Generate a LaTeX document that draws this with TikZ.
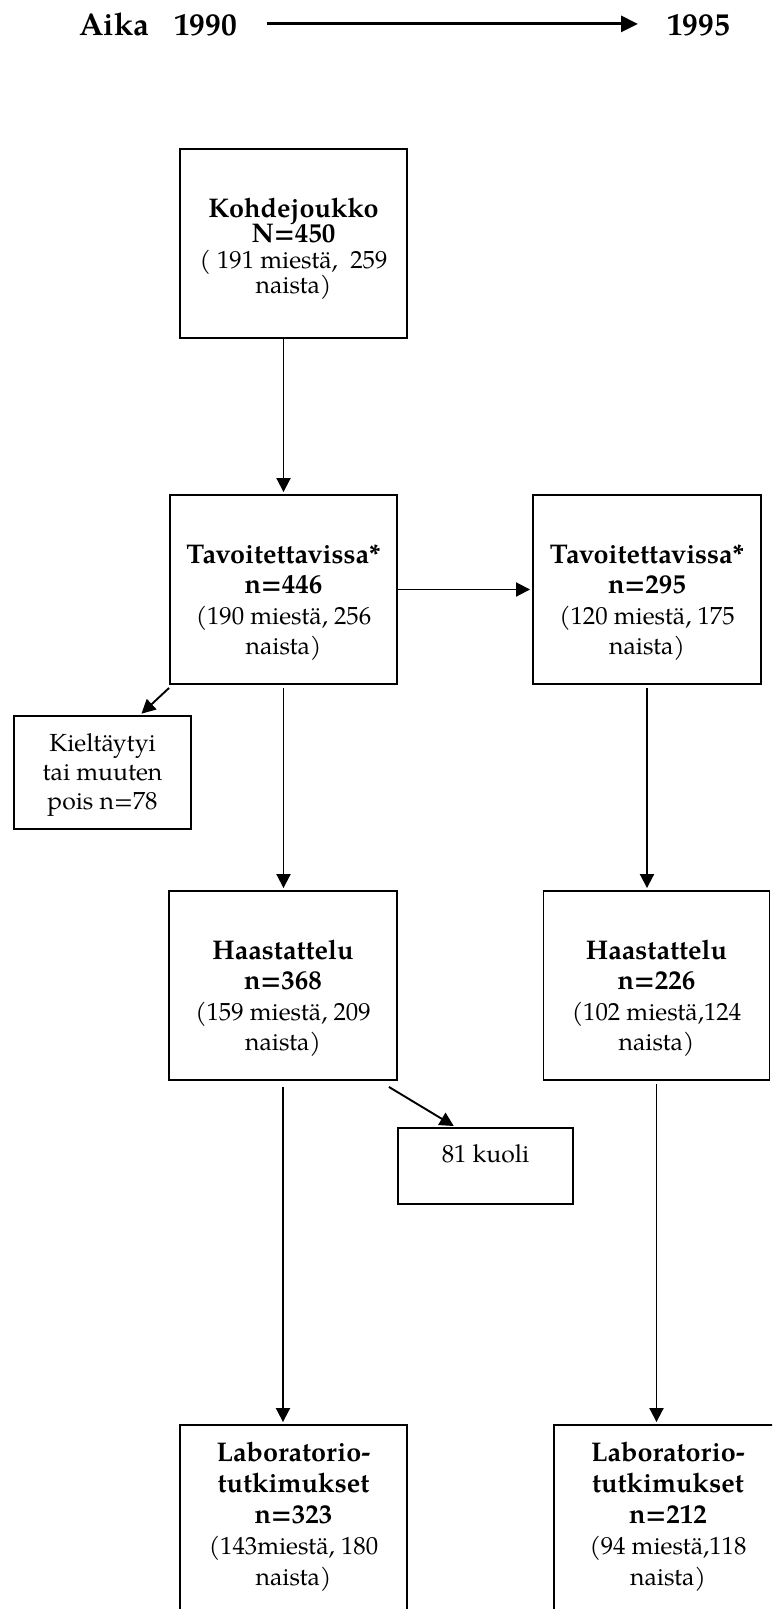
\documentclass[tikz,border=0pt]{standalone}
\usepackage{fontspec}
\setmainfont{TeX Gyre Pagella}
\usetikzlibrary{arrows.meta}
\newcommand{\bt}[1]{{\fontsize{27}{27}\selectfont\bfseries #1}}
\newcommand{\flowbox}[5]{\parbox[c][#2][t]{#1}{\centering\fontsize{24.75}{#4}\selectfont\lineskiplimit=-100pt\lineskip=0pt\rule{0pt}{#3}#5\par}}
\begin{document}
\begin{tikzpicture}[x=1pt,y=-1pt,
  box/.style={draw, line width=1.9pt, inner sep=0pt},
  arr/.style={line width=1.9pt, shorten >=2pt, -{Triangle[length=14pt,width=14pt]}},
  hdr/.style={inner sep=0pt, font=\fontsize{31.5}{32}\selectfont\bfseries},
  hdrarr/.style={line width=3pt, -{Triangle[length=17pt,width=16pt]}}]
\path[use as bounding box, clip] (0,0) rectangle (772,1609);
\fill[white] (0,0) rectangle (772,1609);
\node[hdr, anchor=base west] (aika) at (79,35) {Aika\hspace{25pt}1990};
\node[hdr, anchor=base west] (y95) at (667,35) {1995};
\draw[hdrarr] ([xshift=30pt]aika.east) -- ([xshift=-29pt]aika.east -| y95.west);

\node[box] (A) at (293.5,243.5) {\flowbox{227pt}{189pt}{68pt}{25.5pt}{\bt{Kohdejoukko}\\\bt{N=450}\\( 191 miestä,\ \ 259\\naista)}};
\node[box] (B) at (283.5,589.5) {\flowbox{227pt}{189pt}{68pt}{30.5pt}{\bt{Tavoitettavissa*}\\\bt{n=446}\\(190 miestä, 256\\naista)}};
\node[box] (E) at (647,589.5) {\flowbox{228pt}{189pt}{68pt}{30.5pt}{\bt{Tavoitettavissa*}\\\bt{n=295}\\(120 miestä, 175\\naista)}};
\node[box] (C) at (102.5,772.5) {\flowbox{177pt}{113pt}{35pt}{29pt}{Kieltäytyi\\tai muuten\\pois n=78}};
\node[box] (D) at (283,985.5) {\flowbox{228pt}{189pt}{68pt}{30.5pt}{\bt{Haastattelu}\\\bt{n=368}\\(159 miestä, 209\\naista)}};
\node[box] (F) at (656.5,985.5) {\flowbox{226pt}{189pt}{68pt}{30.5pt}{\bt{Haastattelu}\\\bt{n=226}\\(102 miestä,124\\naista)}};
\node[box] (G) at (485.5,1166) {\flowbox{175pt}{76pt}{34pt}{29pt}{81 kuoli}};
\node[box] (H) at (293.5,1567.5) {\flowbox{227pt}{285pt}{36pt}{31pt}{\bt{Laboratorio-}\\\bt{tutkimukset}\\\bt{n=323}\\(143miestä, 180\\naista)}};
\node[box] (I) at (668,1567.5) {\flowbox{228pt}{285pt}{36pt}{31pt}{\bt{Laboratorio-}\\\bt{tutkimukset}\\\bt{n=212}\\(94 miestä,118\\naista)}};

\draw[arr] (A.south -| B.north) -- (B.north);
\draw[arr] (B.east) -- (B.east -| E.west);
\draw[arr] ([yshift=-3pt]B.south west) -- ([xshift=37.5pt]C.north);
\draw[arr] ([yshift=-3pt]B.south) -- (B.south |- D.north);
\draw[arr] ([yshift=-3pt]E.south) -- (E.south |- F.north);
\draw[arr] ([yshift=-6pt]D.south) -- (D.south |- H.north);
\draw[arr] ([xshift=-9pt,yshift=-6pt]D.south east) -- ([xshift=-30pt]G.north);
\draw[arr] ([yshift=-3pt]F.south) -- (F.south |- I.north);
\end{tikzpicture}
\end{document}
